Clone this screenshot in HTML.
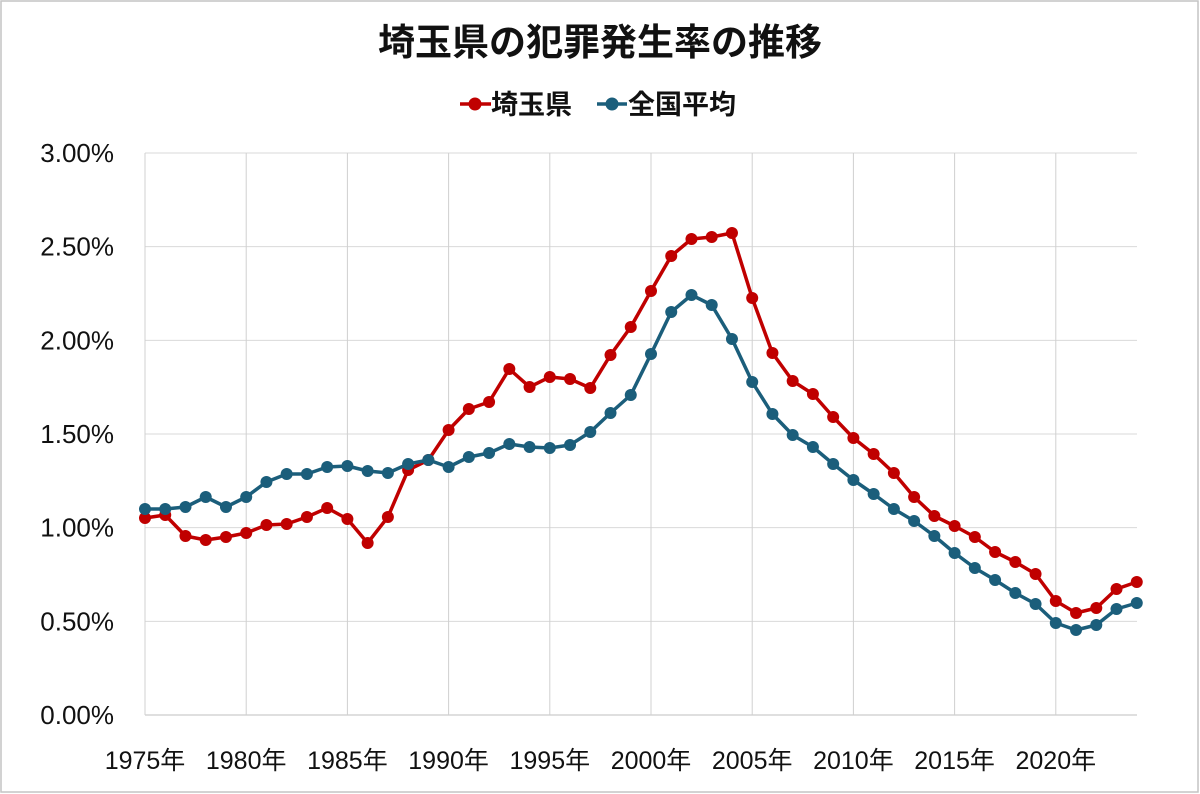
<!DOCTYPE html>
<html><head><meta charset="utf-8"><style>
html,body{margin:0;padding:0;background:#fff;}
svg{display:block;font-family:"Liberation Sans","Noto Sans CJK JP",sans-serif;}
</style></head><body>
<svg id="s" width="1200" height="794" xmlns="http://www.w3.org/2000/svg">
<rect x="1" y="1" width="1197" height="791" fill="#fff" stroke="#c4c4c4" stroke-width="1.5"/>
<text x="600" y="55" text-anchor="middle" font-size="37" font-weight="bold" fill="#111">埼玉県の犯罪発生率の推移</text>
<g font-size="27" font-weight="bold" fill="#111">
<line x1="460" y1="104" x2="491" y2="104" stroke="#C00000" stroke-width="3.5"/><circle cx="475" cy="104" r="6.5" fill="#C00000"/>
<text x="491" y="114">埼玉県</text>
<line x1="597" y1="104" x2="627" y2="104" stroke="#1B5E7B" stroke-width="3.5"/><circle cx="612" cy="104" r="6.5" fill="#1B5E7B"/>
<text x="628" y="114">全国平均</text>
</g>
<g id="grid" stroke="#d0d0d0" stroke-width="1"></g>
<g id="lab" fill="#111"></g>
<g id="ser"></g>
</svg>
<script>
var NS="http://www.w3.org/2000/svg";
function el(p,t,a,txt){var e=document.createElementNS(NS,t);for(var k in a)e.setAttribute(k,a[k]);if(txt)e.textContent=txt;p.appendChild(e);return e;}
var g=document.getElementById('grid'),l=document.getElementById('lab'),s=document.getElementById('ser');
var x0=145,dx=20.24,y0=715,y3=153;
for(var i=0;i<=6;i++){var y=y0-(y0-y3)*i/6;el(g,'line',{x1:x0,x2:1137,y1:y,y2:y,stroke:i==0?'#bfbfbf':'#d9d9d9'});
el(l,'text',{x:114,y:y+9,'text-anchor':'end','font-size':26},(i*0.5).toFixed(2)+'%');}
for(var yr=1975;yr<=2020;yr+=5){var x=x0+(yr-1975)*dx;el(g,'line',{x1:x,x2:x,y1:y3,y2:y0,stroke:'#d0d0d0'});
el(l,'text',{x:x,y:769,'text-anchor':'middle','font-size':25},yr+'年');}
var r=[518,515,536,540,537,533,525,524,517,508,519,543,517,470,460,430,409,402,369,387,377,379,388,355,327,291,256,239,237,233,298,353,381,394,417,438,454,473,497,516,526,537,552,562,574,601,613,608,589,582];
var b=[509,509,507,497,507,497,482,474,474,467,466,471,473,464,460,467,457,453,444,447,448,445,432,413,395,354,312,295,305,339,382,414,435,447,464,480,494,509,521,536,553,568,580,593,604,623,630,625,609,603];
function draw(d,c){var pts=d.map(function(y,i){return (x0+i*dx).toFixed(1)+','+y;}).join(' ');
el(s,'polyline',{points:pts,fill:'none',stroke:c,'stroke-width':3.5,'stroke-linejoin':'round'});
d.forEach(function(y,i){el(s,'circle',{cx:x0+i*dx,cy:y,r:6,fill:c});});}
draw(r,'#C00000');draw(b,'#1B5E7B');
</script>
</body></html>
